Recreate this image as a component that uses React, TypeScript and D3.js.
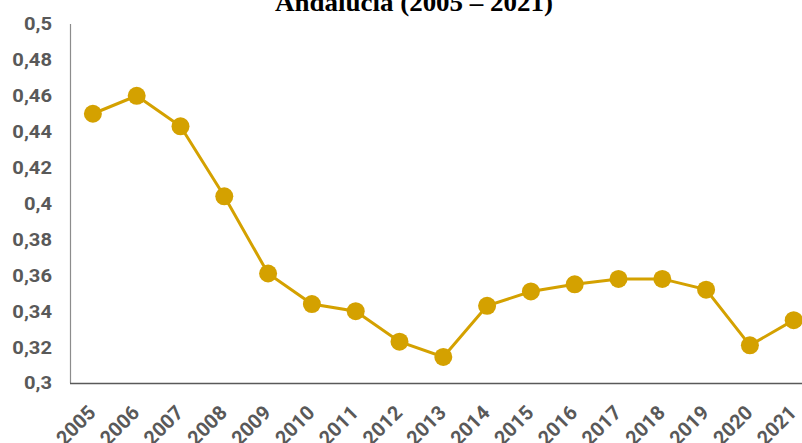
import React from "react";
import * as d3 from "d3";

const years = ["2005","2006","2007","2008","2009","2010","2011","2012","2013","2014","2015","2016","2017","2018","2019","2020","2021"];
const values = [0.45,0.46,0.443,0.404,0.361,0.344,0.340,0.323,0.3145,0.343,0.351,0.355,0.358,0.358,0.352,0.321,0.335];
const yTicks = [0.3,0.32,0.34,0.36,0.38,0.4,0.42,0.44,0.46,0.48,0.5];
const title = "Andalucía (2005 – 2021)";

export default function App() {
  const W = 802, H = 443;
  const x = d3.scaleBand<string>().domain(years).range([71, 71 + 17 * 43.8]);
  const y = d3.scaleLinear().domain([0.3, 0.5]).range([383, 24]);
  const cx = (d: string) => (x(d) as number) + x.bandwidth() / 2;
  const line = d3.line<number>().x((_, i) => cx(years[i])).y((d) => y(d));
  const fmt = (v: number) => String(+v.toFixed(2)).replace(".", ",");
  const color = "#D4A100";
  return (
    <div style={{ position: "absolute", left: 0, top: 0 }}>
      <svg width={W} height={H} style={{ display: "block", background: "#fff" }}>
        <text transform="translate(414,11) scale(1.08,1)" textAnchor="middle" fontFamily="Liberation Serif, Times New Roman, serif" fontWeight="bold" fontSize={25} fill="#000">{title}</text>
        {yTicks.map((t) => (
          <text key={t} transform={`translate(52,${y(t)}) scale(1.12,1)`} dy="0.36em" textAnchor="end" fontFamily="Roboto, sans-serif" fontWeight="bold" fontSize={18} fill="#595959">{fmt(t)}</text>
        ))}
        <line x1={70.5} x2={70.5} y1={24} y2={383} stroke="#8c8c8c" strokeWidth={1.2} />
        <line x1={70} x2={W} y1={383.5} y2={383.5} stroke="#595959" strokeWidth={1.5} />
        {years.map((yr) => (
          <text key={yr} transform={`translate(${cx(yr) + 4},${414}) rotate(-45)`} textAnchor="end" fontFamily="Roboto, sans-serif" fontWeight="bold" fontSize={20} fill="#595959">{yr}</text>
        ))}
        <path d={line(values) as string} fill="none" stroke={color} strokeWidth={3} />
        {values.map((v, i) => (
          <circle key={i} cx={cx(years[i])} cy={y(v)} r={9} fill={color} />
        ))}
      </svg>
    </div>
  );
}
